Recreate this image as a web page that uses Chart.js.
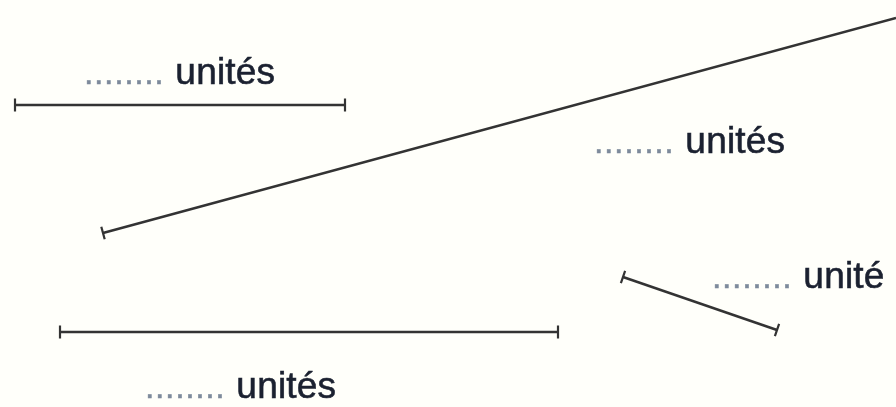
<!DOCTYPE html>
<html>
<head>
<meta charset="utf-8">
<script src="https://cdn.jsdelivr.net/npm/chart.js@4.4.0/dist/chart.umd.min.js"></script>
<style>
  html, body { margin: 0; padding: 0; background: #fffffa; }
  #wrap { width: 896px; height: 407px; position: relative; }
</style>
</head>
<body>
<div id="wrap"><canvas id="c"></canvas></div>
<script>
// Segment endpoints (data coordinates; y measured from the top)
const segStartX = [15, 103, 623, 60];
const segStartY = [105, 233, 277, 332];
const segEndX   = [345, 896, 777, 558];
const segEndY   = [105, 18, 330, 332];
// Whether each end has a tick mark
const tickAtStart = [true, true, true, true];
const tickAtEnd   = [true, false, true, true];

// Labels
const labelDots  = ['........', '........', '........', '........'];
const labelWords = ['unités', 'unités', 'unité', 'unités'];
const labelX = [84, 594, 712, 145];
const labelY = [84, 153, 288, 398];

const datasets = segStartX.map((sx, i) => {
  const ang = Math.atan2(segEndY[i] - segStartY[i], segEndX[i] - sx) * 180 / Math.PI;
  return {
    data: [{x: sx, y: segStartY[i]}, {x: segEndX[i], y: segEndY[i]}],
    showLine: true,
    borderColor: '#333333',
    borderWidth: 2.5,
    pointStyle: 'line',
    pointRadius: [tickAtStart[i] ? 6.5 : 0, tickAtEnd[i] ? 6.5 : 0],
    pointHoverRadius: 0,
    pointBorderWidth: 2.2,
    pointBorderColor: '#333333',
    pointRotation: ang + 90,
    clip: false
  };
});

const labelPlugin = {
  id: 'labels',
  afterDatasetsDraw(chart) {
    const ctx = chart.ctx;
    const xs = chart.scales.x, ys = chart.scales.y;
    ctx.save();
    ctx.textBaseline = 'alphabetic';
    ctx.textAlign = 'left';
    labelDots.forEach((d, i) => {
      const px = xs.getPixelForValue(labelX[i]);
      const py = ys.getPixelForValue(labelY[i]);
      ctx.font = '34px "Liberation Sans", Arial, sans-serif';
      ctx.letterSpacing = '0.6px';
      ctx.fillStyle = '#7d8a9b';
      ctx.strokeStyle = '#7d8a9b';
      ctx.lineWidth = 0.5;
      ctx.fillText(d, px, py);
      ctx.strokeText(d, px, py);
      const w = ctx.measureText(d).width;
      ctx.letterSpacing = '0.2px';
      ctx.font = '37px "Liberation Sans", Arial, sans-serif';
      ctx.fillStyle = '#1b2130';
      ctx.strokeStyle = '#1b2130';
      ctx.lineWidth = 0.6;
      ctx.fillText(labelWords[i], px + w + 11, py);
      ctx.strokeText(labelWords[i], px + w + 11, py);
    });
    ctx.restore();
  }
};

const bgPlugin = {
  id: 'bg',
  beforeDraw(chart) {
    const ctx = chart.ctx;
    ctx.save();
    ctx.fillStyle = '#fffffa';
    ctx.fillRect(0, 0, chart.width, chart.height);
    ctx.restore();
  }
};

new Chart(document.getElementById('c'), {
  type: 'scatter',
  data: { datasets },
  options: {
    responsive: true,
    maintainAspectRatio: false,
    animation: false,
    layout: { padding: 0, autoPadding: false },
    plugins: { legend: { display: false }, tooltip: { enabled: false } },
    events: [],
    scales: {
      x: { type: 'linear', min: 0, max: 896, display: false },
      y: { type: 'linear', min: 0, max: 407, reverse: true, display: false }
    }
  },
  plugins: [bgPlugin, labelPlugin]
});
</script>
</body>
</html>
